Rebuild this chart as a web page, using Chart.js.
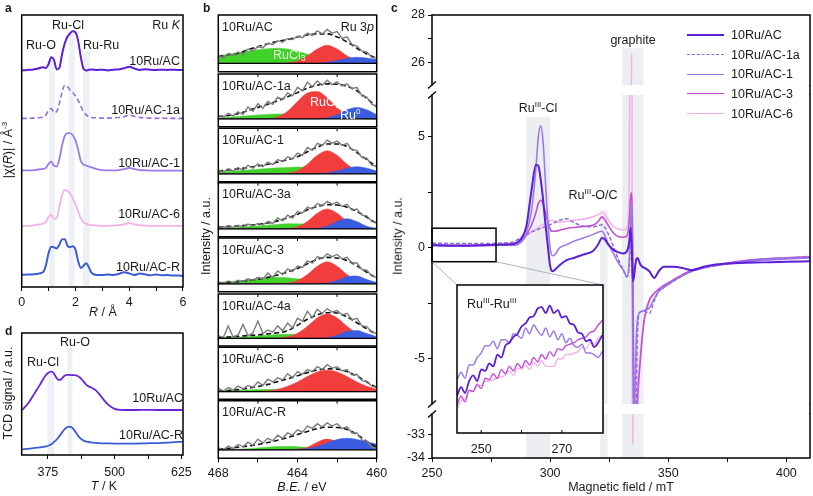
<!DOCTYPE html>
<html lang="en">
<head>
<meta charset="utf-8">
<title>10Ru/AC characterisation</title>
<script src="https://cdn.jsdelivr.net/npm/chart.js@4.4.1/dist/chart.umd.min.js"></script>
<style>
  body { margin: 0; background: #fff; }
  #fig { position: relative; width: 813px; height: 496px; overflow: hidden;
         font-family: "Liberation Sans", Arial, sans-serif; color: #1a1a1a; }
  #fig canvas { position: absolute; left: 0; top: 0; }
  .t { position: absolute; z-index: 5; font-size: 12.5px; line-height: 1; white-space: nowrap; }
  .t sup { font-size: 8px; vertical-align: 5px; line-height: 0; }
  .t sub { font-size: 8.5px; vertical-align: -2px; line-height: 0; }
  .letter { font-weight: bold; font-size: 12px; }
  .key { position: absolute; z-index: 5; width: 37px; height: 0; }
</style>
</head>
<body>
<div id="fig"></div>
<script>
// ---------- a: Ru K-edge |chi(R)| (offset curves, a.u.)
const exafsR = [0, 0.2, 0.4, 0.6, 0.8, 0.9, 1.0, 1.1, 1.2, 1.3, 1.4, 1.5, 1.6, 1.7, 1.8, 1.9, 2.0, 2.1, 2.2, 2.3,
                2.4, 2.5, 2.6, 2.8, 3.0, 3.2, 3.4, 3.6, 3.8, 4.0, 4.2, 4.4, 4.6, 4.8, 5.0, 5.2, 5.4, 5.6, 5.8, 6.0];
const exafsAC   = [79.6, 79.8, 79.9, 80.3, 80.8, 80.5, 82.0, 84.5, 83.5, 80.0, 80.5, 85.5, 89.5, 92.0, 93.3, 94.0, 93.6, 90.5, 84.5, 80.2,
                   79.6, 79.9, 80.0, 79.8, 79.9, 79.6, 79.9, 80.0, 80.4, 81.0, 80.3, 79.8, 80.1, 79.9, 79.8, 79.9, 79.8, 79.9, 79.8, 79.8];
const exafsAC1a = [62.0, 62.0, 62.1, 62.2, 62.5, 63.2, 65.0, 65.6, 64.2, 64.5, 67.5, 71.5, 74.2, 73.8, 72.3, 71.5, 70.2, 68.6, 66.5, 64.5,
                   63.3, 62.6, 62.3, 62.2, 62.1, 62.1, 62.2, 62.3, 62.6, 63.2, 62.7, 62.3, 62.2, 62.1, 62.0, 62.1, 62.0, 62.0, 62.0, 62.0];
const exafsAC1  = [42.8, 42.9, 42.9, 43.2, 43.4, 43.8, 45.3, 46.1, 44.6, 44.3, 47.0, 52.0, 55.5, 56.6, 56.6, 55.8, 53.9, 50.5, 46.3, 45.0,
                   44.6, 44.3, 44.0, 43.3, 43.0, 42.9, 42.9, 43.0, 43.3, 43.8, 43.3, 43.0, 42.9, 42.8, 42.8, 42.8, 42.8, 42.8, 42.8, 42.8];
const exafsAC6  = [22.5, 22.5, 22.6, 22.9, 23.3, 24.0, 25.8, 26.5, 25.0, 25.3, 29.5, 33.8, 35.6, 35.4, 34.4, 32.5, 30.3, 27.8, 25.2, 23.8,
                   23.2, 22.9, 22.7, 22.6, 22.5, 22.5, 22.6, 22.7, 23.0, 23.5, 23.0, 22.7, 22.6, 22.5, 22.5, 22.5, 22.5, 22.5, 22.5, 22.4];
const exafsACR  = [4.5, 4.6, 4.6, 4.9, 5.5, 8.0, 12.5, 14.8, 14.6, 14.2, 15.5, 17.5, 17.6, 15.2, 14.6, 15.0, 13.8, 9.5, 7.0, 7.8,
                   8.7, 7.2, 5.2, 4.4, 4.4, 4.6, 4.4, 4.8, 5.4, 5.0, 4.4, 5.0, 4.6, 4.3, 4.6, 4.3, 4.4, 4.2, 4.2, 4.1];

// ---------- b: Ru 3p XPS fits (one row per sample)
const xpsSamples = ['10Ru/AC', '10Ru/AC-1a', '10Ru/AC-1', '10Ru/AC-3a', '10Ru/AC-3', '10Ru/AC-4a', '10Ru/AC-6', '10Ru/AC-R'];
const fitEnergy = [468, 467.5, 467, 466.5, 466, 465.5, 465, 464.5, 464, 463.5, 463, 462.5, 462, 461.5, 461, 460.5, 460];
const rawEnergy = [468, 467.75, 467.5, 467.25, 467, 466.75, 466.5, 466.25, 466, 465.75, 465.5, 465.25, 465, 464.75, 464.5, 464.25,
                   464, 463.75, 463.5, 463.25, 463, 462.75, 462.5, 462.25, 462, 461.75, 461.5, 461.25, 461, 460.75, 460.5, 460.25, 460];
const rucl3Fit = [
  [.20, .24, .28, .32, .36, .39, .40, .38, .32, .24, .16, .10, .06, .04, .025, .015, .01],
  [.03, .05, .07, .09, .11, .13, .14, .14, .13, .11, .08, .05, .03, .02, .01, 0, 0],
  [.05, .07, .09, .11, .13, .15, .17, .18, .19, .18, .15, .11, .07, .04, .02, .01, 0],
  [.02, .03, .04, .06, .08, .10, .12, .14, .14, .12, .09, .06, .04, .02, .01, 0, 0],
  [.04, .06, .08, .11, .14, .17, .18, .17, .14, .10, .06, .03, .015, .005, 0, 0, 0],
  [.02, .03, .04, .05, .07, .09, .11, .12, .11, .09, .07, .05, .03, .02, .01, 0, 0],
  [.02, .03, .04, .05, .06, .06, .06, .05, .04, .03, .02, .01, 0, 0, 0, 0, 0],
  [.01, .015, .02, .03, .05, .07, .085, .09, .08, .06, .04, .02, .01, 0, 0, 0, 0]
];
const ruo2Fit = [
  [0, 0, 0, 0, 0, 0, .002, .014, .065, .20, .38, .48, .38, .20, .065, .014, .002],
  [0, 0, 0, 0, 0, .01, .06, .22, .50, .74, .78, .60, .32, .12, .03, .005, 0],
  [0, 0, 0, 0, 0, 0, .003, .02, .09, .27, .52, .65, .52, .27, .09, .02, .003],
  [0, 0, 0, 0, 0, 0, 0, .01, .055, .20, .43, .55, .43, .20, .055, .01, 0],
  [0, 0, 0, 0, 0, 0, .003, .02, .09, .26, .49, .62, .49, .26, .09, .02, .003],
  [0, 0, 0, 0, 0, 0, .01, .044, .15, .35, .59, .70, .59, .35, .15, .044, .01],
  [0, 0, 0, 0, .009, .027, .07, .155, .28, .44, .57, .62, .57, .44, .28, .155, .07],
  [0, 0, 0, 0, 0, 0, 0, .003, .02, .07, .20, .28, .20, .07, .02, .003, 0]
];
const ru0Fit = [
  [0, 0, 0, 0, 0, 0, 0, 0, 0, 0, .005, .027, .074, .13, .16, .14, .10],
  [0, 0, 0, 0, 0, 0, 0, 0, 0, 0, .006, .033, .12, .26, .33, .26, .12],
  [0, 0, 0, 0, 0, 0, 0, 0, 0, 0, .006, .027, .08, .16, .20, .16, .08],
  [0, 0, 0, 0, 0, 0, 0, 0, 0, 0, .012, .07, .20, .28, .20, .07, .012],
  [0, 0, 0, 0, 0, 0, 0, 0, 0, 0, .003, .02, .09, .20, .22, .12, .04],
  [0, 0, 0, 0, 0, 0, 0, 0, 0, 0, .003, .02, .09, .20, .23, .14, .05],
  [0, 0, 0, 0, 0, 0, 0, 0, 0, 0, 0, 0, 0, 0, 0, 0, 0],
  [0, 0, 0, 0, 0, 0, 0, 0, .01, .035, .09, .18, .27, .30, .27, .21, .15]
];
const envelopeFit = [
  [.18, .23, .27, .36, .44, .52, .58, .63, .70, .75, .78, .78, .70, .57, .40, .25, .13],
  [.07, .10, .15, .24, .33, .42, .52, .63, .75, .88, .96, 1.0, .99, .93, .80, .58, .35],
  [.08, .11, .14, .18, .22, .27, .33, .40, .48, .62, .75, .84, .84, .77, .60, .40, .20],
  [.05, .06, .08, .10, .12, .16, .22, .30, .40, .53, .62, .67, .66, .60, .48, .32, .15],
  [.02, .04, .06, .09, .13, .18, .25, .33, .43, .56, .68, .74, .72, .65, .50, .32, .16],
  [.02, .04, .06, .08, .10, .13, .16, .22, .38, .55, .68, .74, .73, .62, .45, .27, .12],
  [.01, .03, .06, .10, .15, .21, .29, .37, .46, .55, .62, .66, .65, .58, .45, .28, .12],
  [.02, .04, .07, .10, .14, .19, .25, .32, .40, .48, .55, .59, .58, .53, .40, .22, .06]
];
const rawSignal = [
  [.22, .14, .26, .21, .30, .24, .38, .33, .45, .41, .53, .50, .60, .56, .66, .63, .72, .68, .80, .74, .86, .78, .90, .80, .84, .66, .70, .50, .46, .33, .30, .16, .14],
  [.10, .05, .16, .09, .20, .13, .34, .22, .44, .30, .50, .42, .62, .55, .74, .66, .90, .80, 1.05, .92, 1.08, .96, 1.10, .98, 1.06, .94, 1.00, .86, .90, .66, .62, .42, .36],
  [.12, .04, .15, .08, .18, .10, .24, .16, .28, .20, .33, .26, .40, .34, .48, .42, .58, .52, .74, .66, .86, .80, .95, .86, .92, .80, .86, .68, .66, .46, .44, .24, .22],
  [.08, .03, .09, .04, .10, .05, .13, .08, .15, .11, .20, .15, .30, .22, .38, .30, .48, .44, .60, .55, .70, .64, .76, .68, .74, .62, .68, .52, .55, .38, .36, .20, .18],
  [.06, .01, .08, .03, .10, .06, .14, .10, .18, .13, .30, .18, .36, .26, .42, .34, .50, .46, .64, .58, .76, .70, .84, .76, .82, .70, .74, .58, .58, .40, .38, .22, .18],
  [.08, .02, .36, .04, .10, .40, .08, .16, .50, .14, .24, .18, .36, .22, .44, .30, .58, .50, .78, .60, .84, .72, .86, .76, .80, .68, .72, .54, .58, .36, .34, .18, .14],
  [.10, .02, .12, .05, .16, .08, .18, .12, .28, .18, .36, .28, .40, .34, .52, .40, .58, .50, .64, .58, .72, .64, .78, .68, .72, .60, .64, .48, .50, .32, .30, .16, .12],
  [.06, .00, .10, .04, .14, .08, .20, .12, .28, .18, .30, .24, .38, .30, .44, .38, .52, .46, .62, .56, .68, .60, .70, .62, .68, .56, .60, .44, .44, .26, .22, .08, .04]
];

// ---------- c: EPR spectra (magnetic field in mT)
const eprField = [250, 260, 270, 280, 285, 288, 290, 292, 294, 295, 296, 297, 298, 299, 300, 301, 302, 304, 307, 310,
                  314, 318, 320, 322, 323, 325, 327, 329, 331, 332.5, 333.5, 334, 334.5, 335, 335.5, 336, 336.5, 337, 337.5, 338,
                  339, 340, 342, 344, 346, 348, 352, 356, 360, 365, 370, 380, 390, 400, 410];
const eprAC   = [0.12, 0.1, 0.12, 0.15, 0.2, 0.45, 1.0, 2.5, 3.75, 3.7, 3.1, 2.2, 1.1, 0.1, -0.8, -1.05, -0.98, -0.78, -0.55, -0.45,
                 -0.3, -0.15, 0.1, 0.45, 0.4, 0.1, -0.1, -0.2, -0.25, -0.15, 0.3, 0.9, 0.2, -1.5, -1.3, -0.8, -0.5, -0.45, -0.55, -0.7,
                 -0.85, -0.9, -1.05, -1.35, -1.05, -0.85, -0.85, -0.9, -1.0, -0.85, -0.75, -0.68, -0.65, -0.62, -0.6];
const eprAC1a = [0.22, 0.2, 0.2, 0.22, 0.3, 0.5, 0.62, 0.72, 0.8, 0.84, 0.88, 0.92, 0.96, 1.0, 1.05, 1.1, 1.15, 1.25, 1.32, 1.15,
                 0.98, 0.95, 1.0, 1.05, 0.95, 0.55, 0.0, -0.55, -1.0, -1.3, -0.8, 0.3, 1.0, -2.5, -7.5, -11, -6.5, -3.8, -3.0, -2.9,
                 -2.85, -2.85, -2.95, -2.4, -1.95, -1.75, -1.5, -1.25, -1.05, -0.9, -0.8, -0.62, -0.5, -0.45, -0.4];
const eprAC1  = [0.15, 0.12, 0.12, 0.15, 0.15, 0.3, 0.7, 1.6, 3.6, 5.0, 5.5, 4.8, 3.0, 1.2, 0.0, -0.35, -0.3, 0.0, 0.15, 0.3,
                 0.45, 0.6, 0.7, 0.75, 0.6, 0.1, -0.3, -0.7, -1.0, -1.3, -0.5, 1.0, 1.9, -4, -9, -6, -4, -3.2, -3.0, -2.9,
                 -2.85, -2.8, -2.7, -2.3, -1.95, -1.8, -1.5, -1.25, -1.05, -0.9, -0.8, -0.65, -0.55, -0.5, -0.45];
const eprAC3  = [0.12, 0.1, 0.1, 0.12, 0.12, 0.3, 0.6, 1.0, 1.6, 2.0, 2.15, 2.0, 1.6, 1.2, 0.85, 0.75, 0.75, 0.8, 0.88, 0.92,
                 0.97, 1.02, 1.15, 1.4, 1.3, 0.95, 0.65, 0.5, 0.48, 0.55, 1.2, 2.2, 2.5, 0.0, -8, -12, -9, -7, -6, -5.3,
                 -4.0, -3.1, -2.35, -2.05, -1.85, -1.7, -1.45, -1.2, -1.0, -0.88, -0.78, -0.6, -0.5, -0.45, -0.4];
const eprAC6  = [0.15, 0.12, 0.12, 0.15, 0.2, 0.4, 0.55, 0.7, 0.85, 0.92, 1.0, 1.05, 1.12, 1.18, 1.22, 1.25, 1.2, 1.15, 1.2, 1.25,
                 1.3, 1.4, 1.48, 1.6, 1.55, 1.2, 0.95, 0.85, 0.8, 0.9, 3.0, 15, 26.4, -33.4, -20, -10, -7.5, -6.3, -5.6, -5.0,
                 -3.9, -3.2, -2.4, -2.05, -1.85, -1.7, -1.45, -1.2, -1.0, -0.88, -0.78, -0.6, -0.5, -0.43, -0.38];
// inset: Ru(III)-Ru(III) region, arbitrary units
const insetField = [244, 245, 246, 247, 248, 249, 250, 251, 252, 253, 254, 255, 256, 257, 258, 259, 260, 261, 262,
                    263, 264, 265, 266, 267, 268, 269, 270, 271, 272, 273, 274, 275, 276, 277, 278, 279, 280];
const insetAC  = [25, 31, 27, 35, 39, 35, 43, 42, 47, 45, 53, 51, 59, 61, 65, 67, 72, 74, 78,
                  79, 84, 85, 81, 86, 81, 83, 78, 79, 74, 73, 68, 67, 62, 63, 58, 61, 66];
const insetAC1 = [36, 41, 37, 46, 46, 51, 54, 59, 59, 62, 57, 63, 63, 61, 67, 66, 64, 71, 67,
                  73, 69, 66, 71, 65, 69, 63, 67, 61, 64, 59, 58, 60, 54, 54, 53, 51, 55];
const insetAC3 = [19, 25, 21, 29, 28, 33, 30, 37, 36, 40, 37, 43, 40, 45, 42, 47, 44, 49, 46,
                  51, 48, 53, 50, 55, 52, 57, 56, 59, 60, 61, 63, 64, 65, 68, 69, 73, 76];
const insetAC6 = [16, 22, 23, 28, 28, 32, 32, 35, 35, 36, 37, 38, 39, 42, 39, 44, 43, 46, 43,
                  48, 45, 49, 45, 45, 45, 50, 50, 53, 53, 54, 55, 58, 57, 61, 60, 64, 65];

// ---------- d: H2-TPR (TCD signal, offset)
const tprT    = [327, 340, 350, 360, 370, 378, 382, 386, 390, 395, 400, 405, 410, 415, 420, 425, 430, 435, 440, 445,
                 450, 455, 460, 465, 470, 475, 480, 490, 500, 510, 520, 540, 560, 580, 600, 627];
const tprAC   = [36.9, 43.5, 50.5, 57.5, 64.8, 68.0, 68.3, 67.0, 64.0, 61.6, 62.0, 64.5, 65.6, 65.6, 65.4, 65.5, 65.0, 63.5, 61.2, 58.5,
                 56.5, 55.5, 54.3, 53.0, 50.5, 47.8, 45.0, 40.5, 37.8, 37.0, 36.9, 36.9, 37.0, 36.9, 36.9, 36.9];
const tprACR  = [4.6, 5.2, 5.8, 6.3, 6.9, 8.0, 9.0, 10.5, 12.0, 14.5, 17.5, 20.5, 22.5, 23.2, 22.5, 20.0, 16.8, 14.0, 12.2, 11.2,
                 10.8, 10.4, 10.1, 9.9, 9.7, 9.6, 9.6, 9.5, 9.4, 9.3, 9.3, 9.4, 9.6, 9.8, 10.2, 11.0];

// ---------- colours
const cAC = '#5a1fd6', c1a = '#8f6be3', c1 = '#9b7ce6', c3 = '#c24fd6', c6 = '#f5b2e7', cR = '#3b5bd6';
const bandGrey = '#edf0f4';

const W = 813, H = 496;
const fig = document.getElementById('fig');
Chart.defaults.font.family = '"Liberation Sans", Arial, sans-serif';
Chart.defaults.font.size = 12.5;
Chart.defaults.color = '#1a1a1a';

function box(l, t, r, b, xh = 0, yw = 0) {
  return { left: l - yw, top: t, right: W - r, bottom: H - b - xh };
}

function line(xs, ys, color, width, dash) {
  return { data: xs.map((x, i) => ({ x, y: ys[i] })), borderColor: color, borderWidth: width,
           borderDash: dash || [], pointRadius: 0, fill: false, cubicInterpolationMode: 'monotone' };
}

function filled(xs, ys, color) {
  return { data: xs.map((x, i) => ({ x, y: ys[i] })), borderColor: color, borderWidth: 0.5,
           backgroundColor: color, fill: 'origin', pointRadius: 0, cubicInterpolationMode: 'monotone' };
}

function hidden(min, max, reverse) {
  return { type: 'linear', display: false, min, max, reverse: !!reverse };
}

function xTicks(min, max, step, show, height, pad, reverse) {
  return {
    type: 'linear', min, max, reverse: !!reverse,
    border: { display: false },
    grid: { drawOnChartArea: false, tickLength: 4, color: '#000' },
    ticks: { stepSize: step, autoSkip: false, maxRotation: 0, includeBounds: false, padding: pad,
             callback: v => show(v) ? v : '' },
    afterFit: s => { s.height = height; }
  };
}

function yTicks(min, max, step, show) {
  return {
    type: 'linear', min, max,
    border: { display: false },
    grid: { drawOnChartArea: false, tickLength: 4, color: '#000' },
    ticks: { stepSize: step, autoSkip: false, includeBounds: false, padding: 3,
             callback: v => show(v) ? v : '' },
    afterFit: s => { s.width = 40; }
  };
}

// border around the plot area, with optional inner ticks and zero line
function frame(sides, opt = {}) {
  return {
    id: 'frame',
    afterDatasetsDraw(chart) {
      const { ctx, chartArea: a } = chart;
      const x = chart.scales.x, y = chart.scales.y;
      ctx.save();
      ctx.strokeStyle = '#000';
      ctx.lineCap = 'square';
      if (opt.zero) {
        ctx.lineWidth = 1.2;
        const y0 = y.getPixelForValue(0);
        ctx.beginPath(); ctx.moveTo(a.left, y0); ctx.lineTo(a.right, y0); ctx.stroke();
      }
      ctx.lineWidth = 1.5;
      ctx.beginPath();
      if (sides.includes('t')) { ctx.moveTo(a.left, a.top); ctx.lineTo(a.right, a.top); }
      if (sides.includes('b')) { ctx.moveTo(a.left, a.bottom); ctx.lineTo(a.right, a.bottom); }
      if (sides.includes('l')) { ctx.moveTo(a.left, a.top); ctx.lineTo(a.left, a.bottom); }
      if (sides.includes('r')) { ctx.moveTo(a.right, a.top); ctx.lineTo(a.right, a.bottom); }
      ctx.stroke();
      ctx.lineWidth = 1;
      ctx.lineCap = 'butt';
      ctx.beginPath();
      (opt.topTicks || []).forEach(v => {
        const px = x.getPixelForValue(v); ctx.moveTo(px, a.top); ctx.lineTo(px, a.top + 3);
      });
      (opt.bottomTicks || []).forEach(v => {
        const px = x.getPixelForValue(v); ctx.moveTo(px, a.bottom); ctx.lineTo(px, a.bottom - 3);
      });
      ctx.stroke();
      ctx.restore();
    }
  };
}

// shaded vertical bands [from, to, top value]
function bands(items, color) {
  return {
    id: 'bands',
    beforeDatasetsDraw(chart) {
      const { ctx, chartArea: a, scales: { x, y } } = chart;
      ctx.save();
      ctx.fillStyle = color;
      items.forEach(([x0, x1, top]) => {
        let yt = y.getPixelForValue(top);
        yt = Math.max(a.top, Math.min(a.bottom, yt));
        const p0 = x.getPixelForValue(x0), p1 = x.getPixelForValue(x1);
        ctx.fillRect(Math.min(p0, p1), yt, Math.abs(p1 - p0), a.bottom - yt);
      });
      ctx.restore();
    }
  };
}

function addChart(datasets, padding, scales, plugins) {
  const cv = document.createElement('canvas');
  cv.width = W; cv.height = H;
  fig.appendChild(cv);
  return new Chart(cv, {
    type: 'line',
    data: { datasets },
    options: {
      responsive: false, animation: false, devicePixelRatio: 1,
      layout: { padding },
      plugins: { legend: { display: false }, tooltip: { enabled: false } },
      scales
    },
    plugins
  });
}

// ---------- panel a
addChart([
  line(exafsR, exafsAC, cAC, 2),
  line(exafsR, exafsAC1a, c1a, 1.6, [5, 3]),
  line(exafsR, exafsAC1, c1, 1.8),
  line(exafsR, exafsAC6, c6, 1.8),
  line(exafsR, exafsACR, cR, 2)
], box(21.7, 15, 183, 287, 40), {
  x: xTicks(0, 6, 1, v => v % 2 === 0, 40, 4),
  y: hidden(0, 100)
}, [bands([[1.02, 1.23, 83.5], [1.75, 1.97, 93.4], [2.28, 2.53, 86.4]], bandGrey), frame('tlrb')]);

// ---------- panel b
const boxTops    = [15, 74, 128.3, 182.7, 238, 294, 347.3, 400.7];
const boxBottoms = [71.7, 126.7, 181.7, 236.7, 291.7, 346, 399.3, 458.3];
xpsSamples.forEach((name, i) => {
  const last = i === xpsSamples.length - 1;
  addChart([
    { ...line(rawEnergy, rawSignal[i], '#7d7d7d', 1.4), cubicInterpolationMode: 'default', tension: 0 },
    line(fitEnergy, envelopeFit[i], '#111', 1.6, [5, 3]),
    filled(fitEnergy, ru0Fit[i], '#3a5ce0'),
    filled(fitEnergy, ruo2Fit[i], '#f23d3d'),
    filled(fitEnergy, rucl3Fit[i], '#41d22a')
  ], box(218.3, boxTops[i], 376.7, boxBottoms[i], last ? 30 : 0), {
    x: last ? xTicks(460, 468, 2, v => v % 4 === 0, 30, 4, true) : hidden(460, 468, true),
    y: hidden(-0.22, 1.28)
  }, [frame('tlrb', { zero: true, topTicks: i > 0 ? [466, 464, 462] : [] })]);
});

// ---------- panel c (broken y axis: three stacked segments)
const cArea = { left: 432, right: 810 };
const inset = { left: 457, top: 285, right: 603, bottom: 433 };
const zoomWin = { from: 250, to: 277.1, low: -0.62, high: 0.89 };
const eprBands = [[289.8, 300, 5.9], [321.2, 324.3, 1.7], [330.4, 339.5, 26.6]];
const eprSets = () => [
  line(eprField, eprAC, cAC, 2),
  line(eprField, eprAC1a, c1a, 1.5, [4, 2]),
  line(eprField, eprAC1, c1, 1.6),
  line(eprField, eprAC3, c3, 1.6),
  line(eprField, eprAC6, c6, 1.6)
];

addChart(eprSets(), box(cArea.left, 15, cArea.right, 85, 0, 40), {
  x: hidden(250, 410),
  y: yTicks(25.05, 28, 1, v => v % 2 === 0)
}, [bands(eprBands, '#eceef1'), frame('tlr')]);

const zoomBox = {
  id: 'zoomBox',
  afterDatasetsDraw(chart) {
    const { ctx, chartArea: a, scales: { x, y } } = chart;
    const l = x.getPixelForValue(zoomWin.from), r = x.getPixelForValue(zoomWin.to);
    const t = y.getPixelForValue(zoomWin.high), b = y.getPixelForValue(zoomWin.low);
    ctx.save();
    ctx.strokeStyle = '#aab4c6'; ctx.lineWidth = 1;
    ctx.beginPath();
    ctx.moveTo(l, b); ctx.lineTo(inset.left, inset.top);
    ctx.moveTo(r, b); ctx.lineTo(inset.right, inset.top);
    ctx.stroke();
    ctx.strokeStyle = '#000'; ctx.lineWidth = 1.5;
    ctx.strokeRect(l, t, r - l, b - t);
    // right border through the gaps
    ctx.beginPath();
    ctx.moveTo(a.right, 85); ctx.lineTo(a.right, 95);
    ctx.moveTo(a.right, 404); ctx.lineTo(a.right, 414);
    ctx.stroke();
    // axis-break marks
    ctx.lineWidth = 1.3;
    ctx.beginPath();
    [85, 95, 404, 414].forEach(yc => { ctx.moveTo(a.left - 4, yc + 3.5); ctx.lineTo(a.left + 4, yc - 3.5); });
    ctx.stroke();
    ctx.restore();
  }
};

addChart(eprSets(), box(cArea.left, 95, cArea.right, 404, 0, 40), {
  x: hidden(250, 410),
  y: yTicks(-7.03, 6.89, 2.5, v => v % 5 === 0)
}, [bands(eprBands, '#eceef1'), frame('lr'), zoomBox]);

addChart(eprSets(), box(cArea.left, 414, cArea.right, 458, 30, 40), {
  x: xTicks(250, 410, 25, v => v % 50 === 0, 30, 4),
  y: yTicks(-34, -32.09, 1, () => true)
}, [bands(eprBands, '#eceef1'), frame('lrb')]);

// inset
const whiteBg = {
  id: 'whiteBg',
  beforeDraw(chart) {
    const { ctx, chartArea: a } = chart;
    ctx.save(); ctx.fillStyle = '#fff'; ctx.fillRect(a.left, a.top, a.right - a.left, a.bottom - a.top); ctx.restore();
  }
};
addChart([
  line(insetField, insetAC, cAC, 1.8),
  line(insetField, insetAC1, c1, 1.5),
  line(insetField, insetAC3, c3, 1.4),
  line(insetField, insetAC6, c6, 1.4)
], box(inset.left, inset.top, inset.right, inset.bottom, 24), {
  x: { ...xTicks(244, 280.2, 10, v => v % 20 === 10, 24, 1), grid: { display: false } },
  y: hidden(0, 100)
}, [whiteBg, frame('tlrb', { bottomTicks: [250, 260, 270] })]);

// ---------- panel d
addChart([
  line(tprT, tprAC, '#6a24d8', 1.8),
  line(tprT, tprACR, cR, 1.8)
], box(21.7, 333, 183, 455, 30), {
  x: { ...xTicks(326, 628, 125, () => true, 30, 6),
       afterBuildTicks: s => { s.ticks = [375, 437.5, 500, 562.5, 625].map(v => ({ value: v })); },
       ticks: { autoSkip: false, maxRotation: 0, padding: 6, callback: v => (v - 375) % 125 === 0 ? v : '' } },
  y: hidden(0, 100)
}, [bands([[374, 387, 68], [412, 421, 87.7]], bandGrey), frame('tlrb')]);

// ---------- text
function label(html, x, y, align = 'left', cls = '', extra = {}) {
  const d = document.createElement('div');
  d.className = 't ' + cls;
  d.innerHTML = html;
  d.style.left = x + 'px';
  d.style.top = y + 'px';
  const tx = align === 'left' ? '0' : align === 'right' ? '-100%' : '-50%';
  d.style.transform = `translate(${tx}, -50%)`;
  Object.assign(d.style, extra);
  fig.appendChild(d);
  return d;
}
function vlabel(html, x, y) {
  const d = label(html, x, y, 'center');
  d.style.transform = 'translate(-50%, -50%) rotate(-90deg)';
}

label('a', 5, 8, 'left', 'letter');
label('b', 203, 8, 'left', 'letter');
label('c', 391, 8, 'left', 'letter');
label('d', 5, 331, 'left', 'letter');

// a
label('Ru-Cl', 52, 25);
label('Ru-O', 26, 45);
label('Ru-Ru', 83, 45);
label('Ru <i>K</i>', 180, 25, 'right');
label('10Ru/AC', 180, 61, 'right');
label('10Ru/AC-1a', 180, 110, 'right');
label('10Ru/AC-1', 180, 163, 'right');
label('10Ru/AC-6', 180, 214, 'right');
label('10Ru/AC-R', 180, 267, 'right');
vlabel('|χ(<i>R</i>)| / Å<sup>-3</sup>', 8, 150);
label('<i>R</i> / Å', 103, 312, 'center');

// b
xpsSamples.forEach((name, i) => label(name, 222, boxTops[i] + 11.5));
label('Ru 3<i>p</i>', 374, 27, 'right');
label('RuCl<sub>3</sub>', 273, 55, 'left', '', { color: '#eaffdc' });
label('RuO<sub>2</sub>', 310, 102, 'left', '', { color: '#fff' });
label('Ru<sup>0</sup>', 340, 115, 'left', '', { color: '#fff' });
vlabel('Intensity / a.u.', 206, 236);
label('<i>B.E.</i> / eV', 302, 487, 'center');

// c
label('graphite', 633, 40, 'center');
label('Ru<sup>III</sup>-Cl', 538, 108, 'center');
label('Ru<sup>III</sup>-O/C', 593, 195, 'center');
label('Ru<sup>III</sup>-Ru<sup>III</sup>', 467, 304);
vlabel('Intensity / a.u.', 398, 236);
label('Magnetic field / mT', 621, 487, 'center');
const legendRows = [['10Ru/AC', cAC, 'solid', 2], ['10Ru/AC-1a', c1a, 'dashed', 1.5], ['10Ru/AC-1', c1, 'solid', 1.6],
                    ['10Ru/AC-3', c3, 'solid', 1.6], ['10Ru/AC-6', c6, 'solid', 1.6]];
legendRows.forEach(([name, col, style, w], i) => {
  const y = 35 + i * 19.7;
  const k = document.createElement('div');
  k.className = 'key';
  k.style.left = '687px';
  k.style.top = (y - w / 2) + 'px';
  k.style.borderTop = `${w}px ${style} ${col}`;
  fig.appendChild(k);
  label(name, 731, y);
});

// d
label('Ru-Cl', 27, 362);
label('Ru-O', 60, 342);
label('10Ru/AC', 183, 398, 'right');
label('10Ru/AC-R', 183, 435, 'right');
vlabel('TCD signal / a.u.', 8, 393);
label('<i>T</i> / K', 104, 486, 'center');
</script>
</body>
</html>
